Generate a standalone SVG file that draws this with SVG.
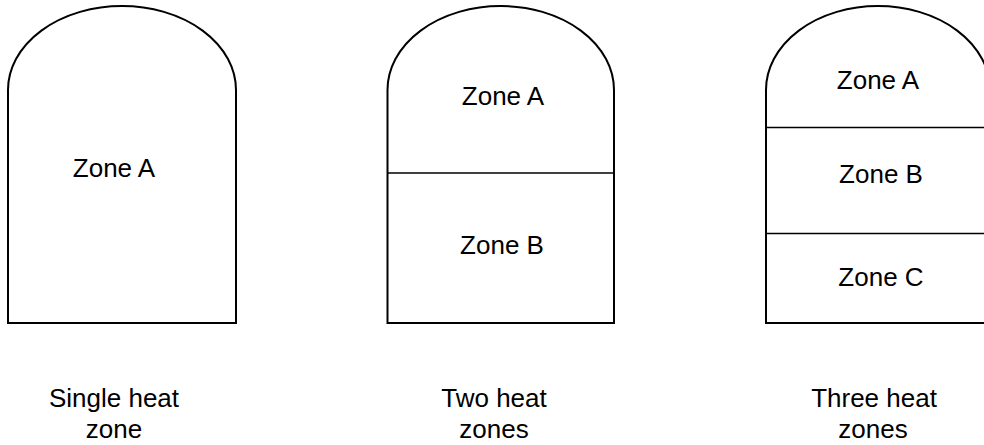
<svg xmlns="http://www.w3.org/2000/svg" width="984" height="445" viewBox="0 0 984 445">
<style>
.shape{fill:#fff;stroke:#000;stroke-width:2}
.div{stroke:#000;stroke-width:1.5;fill:none}
text{font-family:"Liberation Sans",Arial,sans-serif;font-size:26px;fill:#000;text-anchor:middle}
</style>
<rect width="984" height="445" fill="#fff"/>
<g id="single">
<path class="shape" d="M8,323 L8,90 A114,84 0 0 1 236,90 L236,323 Z"/>
<text x="114" y="177">Zone A</text>
<text x="114" y="407">Single heat</text>
<text x="114" y="438">zone</text>
</g>
<g id="two">
<path class="shape" d="M387.5,323 L387.5,90 A113.25,84 0 0 1 614,90 L614,323 Z"/>
<line class="div" x1="387.5" y1="173" x2="614" y2="173"/>
<text x="503" y="105">Zone A</text>
<text x="502" y="254">Zone B</text>
<text x="494" y="407">Two heat</text>
<text x="494" y="438">zones</text>
</g>
<g id="three">
<path class="shape" d="M766,323 L766,90 A112,84 0 0 1 990,90 L990,323 Z"/>
<line class="div" x1="766" y1="127.5" x2="990" y2="127.5"/>
<line class="div" x1="766" y1="233.5" x2="990" y2="233.5"/>
<text x="878" y="89">Zone A</text>
<text x="881" y="183">Zone B</text>
<text x="881" y="286">Zone C</text>
<text x="874" y="407">Three heat</text>
<text x="873" y="438">zones</text>
</g>
<g id="connectors"></g>
</svg>
